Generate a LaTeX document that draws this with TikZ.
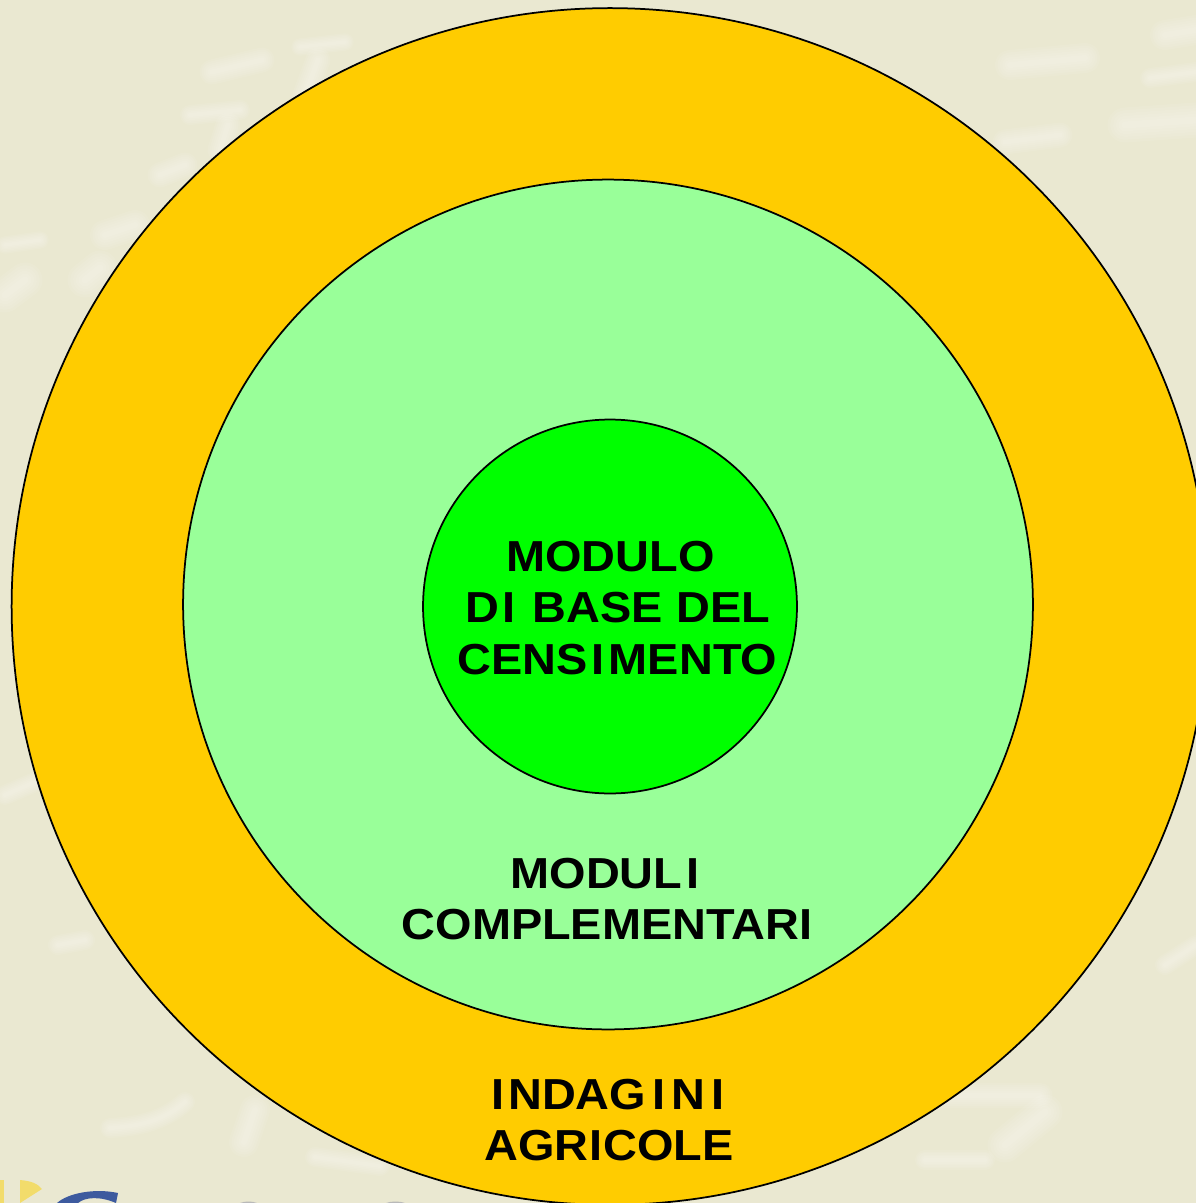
\documentclass[tikz,border=0pt]{standalone}
\usepackage{fontspec}
\setmainfont[FakeStretch=1.08]{Liberation Sans}
\usetikzlibrary{positioning}
\definecolor{paper}{HTML}{EAE8D1}
\definecolor{gold}{HTML}{FFCC00}
\definecolor{palegreen}{HTML}{99FF99}
\definecolor{puregreen}{HTML}{00FF00}
\definecolor{logoblue}{HTML}{3D5A9E}
\definecolor{logoyellow}{HTML}{F2DC6B}
\tikzset{
  ring/.style = {circle, draw = black, line width = 0.035cm, inner sep = 0pt},
  ringlabel/.style = {align = center, text = black, inner sep = 0pt,
    font = \fontsize{24.7}{29.2}\selectfont\bfseries},
  smudge/.style = {white, line cap = round, opacity = 0.07},
}
% soft pale stroke, a few widths on top of each other
\newcommand{\smear}[2]{
  \foreach \w in {0.5,0.42,0.34,0.26,0.18,0.1} {
    \draw[smudge, line width = #1*\w cm] #2;
  }
}
% the letter I stands apart in the labels
\newcommand{\sI}[1][2.3pt]{\kern #1 I\kern #1}
\begin{document}
\begin{tikzpicture}[x = 0.02cm, y = -0.02cm]
    \useasboundingbox[fill = paper] (0,0) rectangle (1196,1203);
    % faint numbers in the backdrop
    \smear{1}{(212,72) -- (262,60)}
    \smear{0.8}{(190,115) -- (240,110)}
    \smear{1}{(228,125) -- (220,150)}
    \smear{1}{(160,175) -- (185,165)}
    \smear{0.7}{(300,47) -- (345,42)}
    \smear{1}{(318,60) -- (305,95)}
    \smear{0.7}{(5,245) -- (40,240)}
    \smear{1.4}{(5,295) -- (25,280)}
    \smear{1.2}{(105,235) -- (135,225)}
    \smear{1.4}{(85,280) -- (100,268)}
    \smear{1.2}{(1010,65) -- (1085,58)}
    \smear{1}{(1005,142) -- (1060,135)}
    \smear{1.2}{(1165,35) -- (1196,30)}
    \smear{0.8}{(1150,78) -- (1196,72)}
    \smear{1.4}{(1125,125) -- (1196,120)}
    \smear{0.8}{(110,1128) .. controls (150,1126) and (170,1115) .. (185,1102)}
    \smear{1.2}{(244,1142) -- (255,1110)}
    \smear{0.8}{(315,1157) -- (380,1166)}
    \smear{1}{(940,1095) -- (1040,1095)}
    \smear{1.4}{(1045,1112) -- (1005,1145)}
    \smear{0.8}{(925,1160) -- (985,1160)}
    \smear{0.8}{(1165,965) -- (1196,945)}
    \smear{0.8}{(5,795) -- (35,782)}
    \smear{0.8}{(58,945) -- (85,940)}
    % scraps of the logo at the bottom edge
    \fill[logoyellow] (0,1180) -- (4,1180) -- (4,1203) -- (0,1203) -- cycle;
    \fill[logoyellow] (20,1180) .. controls (32,1181) and (38,1184) .. (42,1189)
      -- (20,1203) -- cycle;
    \fill[logoblue] (57,1203) .. controls (68,1193) and (95,1188) .. (118,1193)
      -- (116,1203) .. controls (100,1196) and (85,1197) .. (78,1203) -- cycle;
    \fill[gray!55] (240,1203) .. controls (245,1201) and (252,1201) .. (257,1203) -- cycle;
    \fill[gray!55] (386,1203) .. controls (391,1201) and (400,1201) .. (405,1203) -- cycle;

    \node[ring, fill = gold, minimum size = 23.94cm] (outer) at (610,606.5) {};
    \node[ring, fill = palegreen, minimum size = 17cm] (middle) at (608,604.5) {};
    \node[ring, fill = puregreen, minimum size = 7.48cm] (inner) at (610,606.5) {};

    \node[ringlabel] (base) at (617.5,608) {MODULO\kern 8pt\\D\sI\ BASE DEL\\CENS\sI MENTO};
    \node[ringlabel] (compl) at (607,899) {MODUL\sI\\COMPLEMENTAR\sI[0pt]};
    \node[ringlabel] (indag) at (609,1120) {\sI NDAG\sI[3.5pt]N\sI[3.5pt]\\AGR\sI[0.5pt]COLE};
  \end{tikzpicture}
\end{document}
